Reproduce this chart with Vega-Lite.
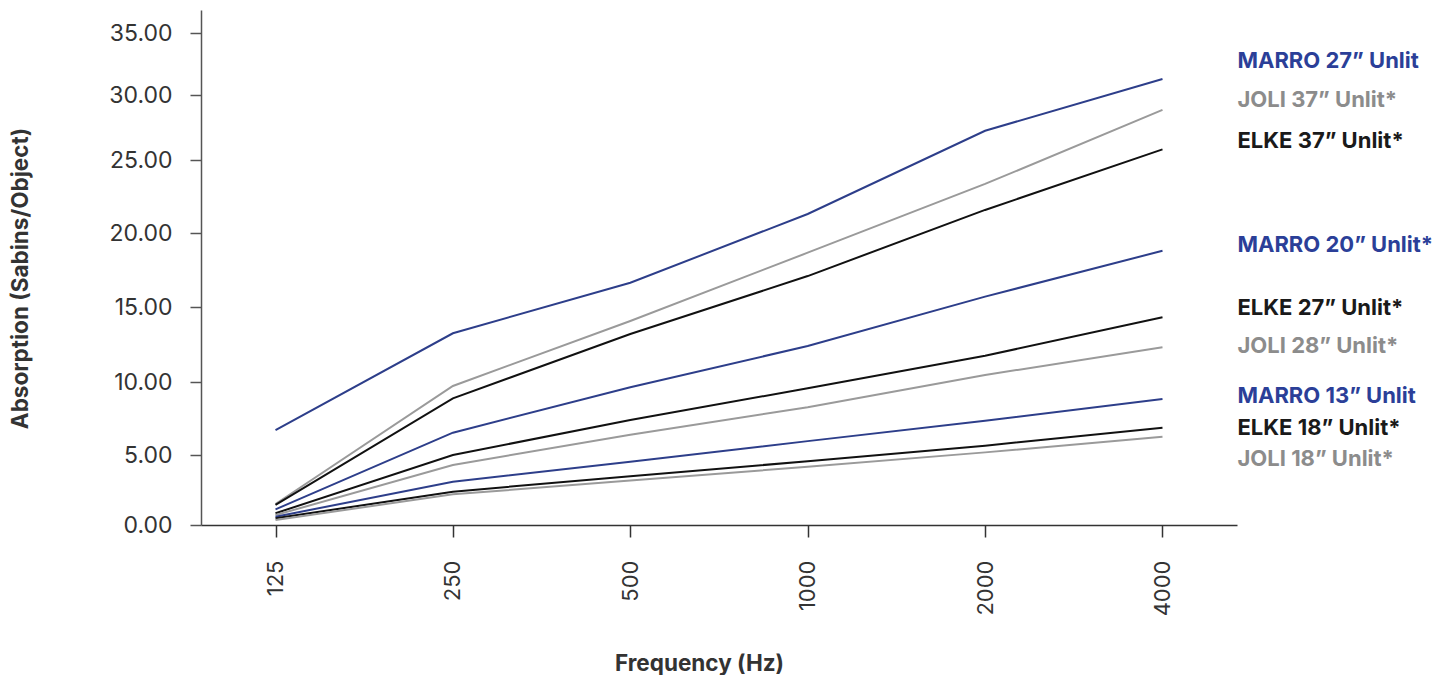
{
  "$schema": "https://vega.github.io/schema/vega-lite/v6.json",
  "width": 1036,
  "height": 515,
  "autosize": {"type": "none"},
  "padding": {"left": 201, "top": 10, "right": 216, "bottom": 150},
  "background": "white",
  "config": {"view": {"stroke": null}},
  "datasets": {
    "lines": [
      {"series": "MARRO 27” Unlit", "freq": 125, "value": 6.71},
      {"series": "MARRO 27” Unlit", "freq": 250, "value": 13.25},
      {"series": "MARRO 27” Unlit", "freq": 500, "value": 16.64},
      {"series": "MARRO 27” Unlit", "freq": 1000, "value": 21.3},
      {"series": "MARRO 27” Unlit", "freq": 2000, "value": 27.25},
      {"series": "MARRO 27” Unlit", "freq": 4000, "value": 31.29},
      {"series": "JOLI 37” Unlit*", "freq": 125, "value": 1.5},
      {"series": "JOLI 37” Unlit*", "freq": 250, "value": 9.73},
      {"series": "JOLI 37” Unlit*", "freq": 500, "value": 14.07},
      {"series": "JOLI 37” Unlit*", "freq": 1000, "value": 18.67},
      {"series": "JOLI 37” Unlit*", "freq": 2000, "value": 23.36},
      {"series": "JOLI 37” Unlit*", "freq": 4000, "value": 28.85},
      {"series": "ELKE 37” Unlit*", "freq": 125, "value": 1.43},
      {"series": "ELKE 37” Unlit*", "freq": 250, "value": 8.88},
      {"series": "ELKE 37” Unlit*", "freq": 500, "value": 13.2},
      {"series": "ELKE 37” Unlit*", "freq": 1000, "value": 17.09},
      {"series": "ELKE 37” Unlit*", "freq": 2000, "value": 21.58},
      {"series": "ELKE 37” Unlit*", "freq": 4000, "value": 25.82},
      {"series": "MARRO 20” Unlit*", "freq": 125, "value": 1.12},
      {"series": "MARRO 20” Unlit*", "freq": 250, "value": 6.53},
      {"series": "MARRO 20” Unlit*", "freq": 500, "value": 9.64},
      {"series": "MARRO 20” Unlit*", "freq": 1000, "value": 12.4},
      {"series": "MARRO 20” Unlit*", "freq": 2000, "value": 15.7},
      {"series": "MARRO 20” Unlit*", "freq": 4000, "value": 18.8},
      {"series": "ELKE 27” Unlit*", "freq": 125, "value": 0.84},
      {"series": "ELKE 27” Unlit*", "freq": 250, "value": 5.0},
      {"series": "ELKE 27” Unlit*", "freq": 500, "value": 7.4},
      {"series": "ELKE 27” Unlit*", "freq": 1000, "value": 9.57},
      {"series": "ELKE 27” Unlit*", "freq": 2000, "value": 11.75},
      {"series": "ELKE 27” Unlit*", "freq": 4000, "value": 14.31},
      {"series": "JOLI 28” Unlit*", "freq": 125, "value": 0.71},
      {"series": "JOLI 28” Unlit*", "freq": 250, "value": 4.29},
      {"series": "JOLI 28” Unlit*", "freq": 500, "value": 6.39},
      {"series": "JOLI 28” Unlit*", "freq": 1000, "value": 8.27},
      {"series": "JOLI 28” Unlit*", "freq": 2000, "value": 10.47},
      {"series": "JOLI 28” Unlit*", "freq": 4000, "value": 12.31},
      {"series": "MARRO 13” Unlit", "freq": 125, "value": 0.59},
      {"series": "MARRO 13” Unlit", "freq": 250, "value": 3.09},
      {"series": "MARRO 13” Unlit", "freq": 500, "value": 4.51},
      {"series": "MARRO 13” Unlit", "freq": 1000, "value": 5.95},
      {"series": "MARRO 13” Unlit", "freq": 2000, "value": 7.35},
      {"series": "MARRO 13” Unlit", "freq": 4000, "value": 8.84},
      {"series": "ELKE 18” Unlit*", "freq": 125, "value": 0.48},
      {"series": "ELKE 18” Unlit*", "freq": 250, "value": 2.38},
      {"series": "ELKE 18” Unlit*", "freq": 500, "value": 3.49},
      {"series": "ELKE 18” Unlit*", "freq": 1000, "value": 4.55},
      {"series": "ELKE 18” Unlit*", "freq": 2000, "value": 5.64},
      {"series": "ELKE 18” Unlit*", "freq": 4000, "value": 6.87},
      {"series": "JOLI 18” Unlit*", "freq": 125, "value": 0.36},
      {"series": "JOLI 18” Unlit*", "freq": 250, "value": 2.19},
      {"series": "JOLI 18” Unlit*", "freq": 500, "value": 3.18},
      {"series": "JOLI 18” Unlit*", "freq": 1000, "value": 4.16},
      {"series": "JOLI 18” Unlit*", "freq": 2000, "value": 5.18},
      {"series": "JOLI 18” Unlit*", "freq": 4000, "value": 6.25}
    ],
    "labels": [
      {"series": "MARRO 27” Unlit", "labelValue": 32.74, "brand": "MARRO"},
      {"series": "JOLI 37” Unlit*", "labelValue": 29.62, "brand": "JOLI"},
      {"series": "ELKE 37” Unlit*", "labelValue": 26.46, "brand": "ELKE"},
      {"series": "MARRO 20” Unlit*", "labelValue": 19.19, "brand": "MARRO"},
      {"series": "ELKE 27” Unlit*", "labelValue": 14.93, "brand": "ELKE"},
      {"series": "JOLI 28” Unlit*", "labelValue": 12.4, "brand": "JOLI"},
      {"series": "MARRO 13” Unlit", "labelValue": 9.04, "brand": "MARRO"},
      {"series": "ELKE 18” Unlit*", "labelValue": 6.85, "brand": "ELKE"},
      {"series": "JOLI 18” Unlit*", "labelValue": 4.71, "brand": "JOLI"}
    ]
  },
  "layer": [
    {
      "data": {"name": "lines"},
      "mark": {"type": "line", "strokeWidth": 2},
      "encoding": {
        "x": {
          "field": "freq",
          "type": "ordinal",
          "scale": {"padding": 0.42},
          "axis": {
            "title": "Frequency (Hz)",
            "labelAngle": -90,
            "labelAlign": "right",
            "labelBaseline": "middle",
            "labelPadding": 23,
            "tickSize": 12,
            "tickWidth": 1.5,
            "domainWidth": 1.5,
            "domainColor": "#333333",
            "tickColor": "#333333",
            "labelFont": "Inter",
            "labelFontSize": 22,
            "labelColor": "#333333",
            "titleFont": "Inter",
            "titleFontWeight": "bold",
            "titleFontSize": 22.5,
            "titleColor": "#333333",
            "titleX": 498,
            "titleY": 138,
            "titleBaseline": "middle",
            "titleAlign": "center",
            "grid": false
          }
        },
        "y": {
          "field": "value",
          "type": "quantitative",
          "scale": {
            "domain": [0, 5, 10, 15, 20, 25, 30, 35, 36.85],
            "range": [515, 445, 372, 297, 223, 150, 85, 23, 0],
            "nice": false,
            "zero": false
          },
          "axis": {
            "title": "Absorption (Sabins/Object)",
            "values": [0, 5, 10, 15, 20, 25, 30, 35],
            "format": ".2f",
            "tickSize": 11,
            "tickWidth": 1.5,
            "domainWidth": 1.5,
            "labelPadding": 18,
            "domainColor": "#555555",
            "tickColor": "#555555",
            "labelFont": "Inter",
            "labelFontSize": 23,
            "labelColor": "#333333",
            "titleFont": "Inter",
            "titleFontWeight": "bold",
            "titleFontSize": 22.5,
            "titleColor": "#333333",
            "titleX": -181,
            "titleY": 268,
            "titleAngle": -90,
            "titleBaseline": "middle",
            "titleAlign": "center",
            "grid": false
          }
        },
        "color": {
          "field": "series",
          "type": "nominal",
          "scale": {
            "domain": ["MARRO 27” Unlit", "JOLI 37” Unlit*", "ELKE 37” Unlit*", "MARRO 20” Unlit*", "ELKE 27” Unlit*", "JOLI 28” Unlit*", "MARRO 13” Unlit", "ELKE 18” Unlit*", "JOLI 18” Unlit*"],
            "range": ["#2d3e8a", "#9a9a9a", "#111111", "#2d3e8a", "#111111", "#9a9a9a", "#2d3e8a", "#111111", "#9a9a9a"]
          },
          "legend": null
        },
        "detail": {"field": "series"}
      }
    },
    {
      "data": {"name": "labels"},
      "mark": {"type": "text", "align": "left", "baseline": "middle", "dx": 75, "font": "Inter", "fontWeight": "bold", "fontSize": 22},
      "encoding": {
        "x": {"datum": 4000, "type": "ordinal"},
        "y": {"field": "labelValue", "type": "quantitative"},
        "text": {"field": "series"},
        "color": {
          "field": "brand",
          "type": "nominal",
          "scale": {"domain": ["MARRO", "JOLI", "ELKE"], "range": ["#2b3f98", "#8c8c8c", "#1a1a1a"]},
          "legend": null
        }
      }
    }
  ],
  "resolve": {"scale": {"color": "independent"}}
}
